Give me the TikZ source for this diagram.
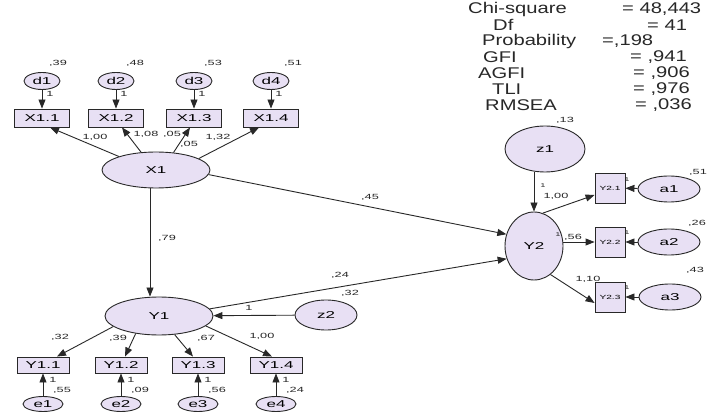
\documentclass[tikz,border=0pt]{standalone}
\usepackage{fontspec}
\setmainfont{Liberation Sans}[FakeStretch=1.7]
\newfontfamily\statfont{Liberation Sans}[FakeStretch=1.3]
\usetikzlibrary{shapes.geometric,arrows.meta}
\definecolor{lav}{RGB}{232,224,244}
\definecolor{ink}{RGB}{40,40,40}
\begin{document}
\begin{tikzpicture}[x=1pt,y=-1pt,
  lat/.style={ellipse, draw=ink, fill=lav, line width=0.9pt, inner sep=0pt, font=\fontsize{10}{10}\selectfont},
  obs/.style={rectangle, draw=ink, fill=lav, line width=0.9pt, inner sep=0pt, font=\fontsize{10}{10}\selectfont},
  arr/.style={-{Triangle[length=9pt,width=7pt]}, line width=0.9pt, draw=ink},
  lbl/.style={font=\fontsize{7.5}{7.5}\selectfont, inner sep=0pt, text=ink},
  tiny/.style={font=\fontsize{5.5}{5.5}\selectfont, inner sep=0pt, text=ink},
  st/.style={font=\statfont\fontsize{15.5}{15.5}\selectfont, inner sep=0pt, anchor=west, text=ink}]
\fill[white] (0,0) rectangle (709,419);
\useasboundingbox (0,0) rectangle (709,419);

% fit statistics
\node[st] (s1) at (468,9) {Chi-square};   \node[st] (v1) at (622,9) {= 48,443};
\node[st] (s2) at (493,25) {Df};          \node[st] (v2) at (647,25) {= 41};
\node[st] (s3) at (482,41) {Probability}; \node[st] (v3) at (602,41) {=,198};
\node[st] (s4) at (483,57) {GFI};         \node[st] (v4) at (630,57) {= ,941};
\node[st] (s5) at (478,73) {AGFI};        \node[st] (v5) at (633,73) {= ,906};
\node[st] (s6) at (492,89) {TLI};         \node[st] (v6) at (633,89) {= ,976};
\node[st] (s7) at (485,105) {RMSEA};      \node[st] (v7) at (635,105) {= ,036};

% X1 block
\foreach \n/\x in {1/42,2/116,3/194,4/271}{
  \node[lat, minimum width=36, minimum height=17] (d\n) at (\x,81) {d\n};
  \node[obs, minimum width=55, minimum height=18] (x\n) at (\x,118) {X1.\n};
  \draw[arr] (d\n) -- (x\n);
  \node[lbl] (one\n) at (\x+8,94) {1};
}
\node[lbl] (vd1) at (58,63) {,39};
\node[lbl] (vd2) at (135,63) {,48};
\node[lbl] (vd3) at (213,63) {,53};
\node[lbl] (vd4) at (293,63) {,51};

\node[lat, minimum width=108, minimum height=36] (X1) at (156,170) {X1};
\draw[arr] (X1.160) -- ([xshift=8pt]x1.south);
\draw[arr] (X1.130) -- ([xshift=6pt]x2.south);
\draw[arr] (X1.45) -- ([xshift=-4pt]x3.south);
\draw[arr] (X1.15) -- ([xshift=-12pt]x4.south);
\node[lbl] (lx1) at (95,137) {1,00};
\node[lbl] (lx2) at (146,134) {1,08};
\node[lbl] (lx3) at (172,134) {,05};
\node[lbl] (vX1) at (189,144) {,05};
\node[lbl] (lx4) at (218,137) {1,32};

% Y1 block
\node[lat, minimum width=108, minimum height=38] (Y1) at (159,316) {Y1};
\draw[arr] ([xshift=-6pt]X1.south) -- ([xshift=-9pt]Y1.north);
\node[lbl] (l79) at (167,238) {,79};
\node[lat, minimum width=62, minimum height=30] (z2) at (326,315) {z2};
\draw[arr] (z2) -- (Y1);
\node[lbl] (lz2) at (249,308) {1};
\node[lbl] (vz2) at (350,293) {,32};

\foreach \n/\x/\v in {1/43/{,55},2/121/{,09},3/198/{,56},4/276/{,24}}{
  \node[obs, minimum width=52, minimum height=16] (y\n) at (\x,365) {Y1.\n};
  \node[lat, minimum width=40, minimum height=15] (e\n) at (\x,404) {e\n};
  \draw[arr] (e\n) -- (y\n);
  \node[lbl] (eo\n) at (\x+10,380) {1};
  \node[lbl] (ev\n) at (\x+19,390) {\v};
}
\draw[arr] (Y1.193) -- ([xshift=14pt]y1.north);
\draw[arr] (Y1.217) -- ([xshift=4pt]y2.north);
\draw[arr] (Y1.-50) -- ([xshift=-5pt]y3.north);
\draw[arr] (Y1.-12) -- ([xshift=-4pt]y4.north);
\node[lbl] (ly1) at (60,337) {,32};
\node[lbl] (ly2) at (118,338) {,39};
\node[lbl] (ly3) at (206,338) {,67};
\node[lbl] (ly4) at (262,336) {1,00};

% Y2 block
\node[lat, minimum width=58, minimum height=68] (Y2) at (534,246) {Y2};
\node[lat, minimum width=80, minimum height=46] (z1) at (545,149) {z1};
\node[lbl] (vz1) at (565,120) {,13};
\draw[arr] ([xshift=-11pt]z1.south) -- (Y2.north);
\node[tiny] (lz1) at (543,186) {1};

\draw[arr] (X1.-5) -- (Y2.157);
\node[lbl] (l45) at (370,197) {,45};
\draw[arr] (Y1.8) -- (Y2.205);
\node[lbl] (l24) at (340,275) {,24};

\node[obs, minimum width=30, minimum height=30, font=\fontsize{6}{6}\selectfont] (w1) at (610,188) {Y2.1};
\node[obs, minimum width=30, minimum height=30, font=\fontsize{6}{6}\selectfont] (w2) at (610,242) {Y2.2};
\node[obs, minimum width=30, minimum height=30, font=\fontsize{6}{6}\selectfont] (w3) at (610,297) {Y2.3};
\node[lat, minimum width=62, minimum height=26] (a1) at (669,189) {a1};
\node[lat, minimum width=62, minimum height=26] (a2) at (669,242) {a2};
\node[lat, minimum width=62, minimum height=26] (a3) at (670,297) {a3};
\draw[arr] (a1) -- (w1);
\draw[arr] (a2) -- (w2);
\draw[arr] (a3) -- (w3);
\node[tiny] (t1) at (627,180) {1};
\node[tiny] (t2) at (627,233) {1};
\node[tiny] (t3) at (627,288) {1};
\node[lbl] (va1) at (698,172) {,51};
\node[lbl] (va2) at (697,223) {,26};
\node[lbl] (va3) at (695,270) {,43};

\draw[arr] (Y2.75) -- ([yshift=-7pt]w1.west);
\draw[arr] (Y2.east |- w2.west) -- (w2.west);
\draw[arr] (Y2.-60) -- ([yshift=-6pt]w3.west);
\node[lbl] (lw1) at (556,196) {1,00};
\node[tiny] (lw2a) at (558,235) {1};
\node[lbl] (lw2) at (573,237) {,56};
\node[lbl] (lw3) at (588,279) {1,10};
\end{tikzpicture}
\end{document}
